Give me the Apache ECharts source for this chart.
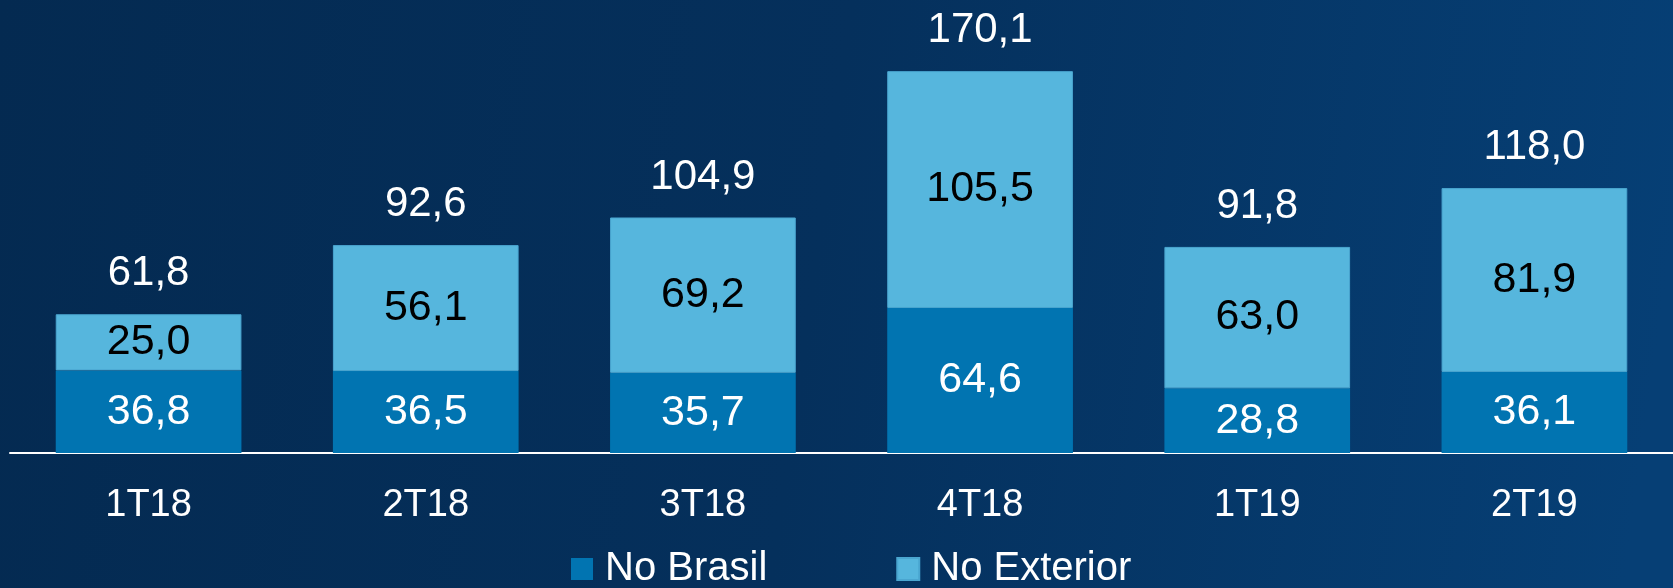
<!DOCTYPE html>
<html>
<head>
<meta charset="utf-8">
<script src="https://cdn.jsdelivr.net/npm/echarts@6/dist/echarts.min.js"></script>
<style>
  html, body { margin: 0; padding: 0; }
  #chart { width: 1673px; height: 588px; }
</style>
</head>
<body>
<div id="chart"></div>
<script>
const categories = ["1T18", "2T18", "3T18", "4T18", "1T19", "2T19"];
const noBrasil = [36.8, 36.5, 35.7, 64.6, 28.8, 36.1];
const noExterior = [25.0, 56.1, 69.2, 105.5, 63.0, 81.9];
const totals = [61.8, 92.6, 104.9, 170.1, 91.8, 118.0];

const fmt = v => v.toFixed(1).replace(".", ",");
const font = "'Liberation Sans', Arial, sans-serif";

var chart = echarts.init(document.getElementById("chart"));

chart.setOption({
    backgroundColor: {
        type: "linear", x: 0, y: 0, x2: 1, y2: 0.4,
        colorStops: [
            { offset: 0, color: "#042a51" },
            { offset: 0.5, color: "#05305c" },
            { offset: 1, color: "#063f75" }
        ]
    },
    animation: false,
    grid: { left: 10, right: 0, top: 4, bottom: 135 },
    legend: {
        data: ["No Brasil", "No Exterior"],
        left: 571,
        top: 549,
        padding: 0,
        itemWidth: 22,
        itemHeight: 22,
        itemGap: 129,
        icon: "rect",
        textStyle: {
            color: "#fff",
            fontSize: 40,
            fontFamily: font,
            padding: [0, 0, 0, 7]
        }
    },
    xAxis: {
        type: "category",
        data: categories,
        axisLine: { lineStyle: { color: "#fff", width: 2 } },
        axisTick: { show: false },
        axisLabel: { color: "#fff", fontSize: 38, fontFamily: font, margin: 34 }
    },
    yAxis: {
        type: "value",
        min: 0,
        max: 200,
        show: false,
        splitLine: { show: false }
    },
    series: [
        {
            name: "No Brasil",
            type: "bar",
            stack: "total",
            data: noBrasil,
            barCategoryGap: "33%",
            itemStyle: { color: "#0174b1" },
            label: {
                show: true,
                position: "inside",
                color: "#fff",
                fontSize: 43,
                fontFamily: font,
                formatter: p => fmt(p.value)
            }
        },
        {
            name: "No Exterior",
            type: "bar",
            stack: "total",
            data: noExterior,
            itemStyle: { color: "#56b6dd", borderColor: "#4aa6d0", borderWidth: 1 },
            label: {
                show: true,
                position: "inside",
                color: "#000",
                fontSize: 43,
                fontFamily: font,
                formatter: p => fmt(p.value)
            }
        },
        {
            name: "Total",
            type: "line",
            data: totals,
            symbol: "circle",
            symbolSize: 1,
            showAllSymbol: true,
            itemStyle: { color: "rgba(0,0,0,0)" },
            lineStyle: { opacity: 0 },
            label: {
                show: true,
                position: "top",
                distance: 19,
                color: "#fff",
                fontSize: 42,
                fontFamily: font,
                formatter: p => fmt(p.value)
            }
        }
    ]
});

window.addEventListener("resize", () => {
    if (chart) chart.resize();
});
</script>
</body>
</html>
